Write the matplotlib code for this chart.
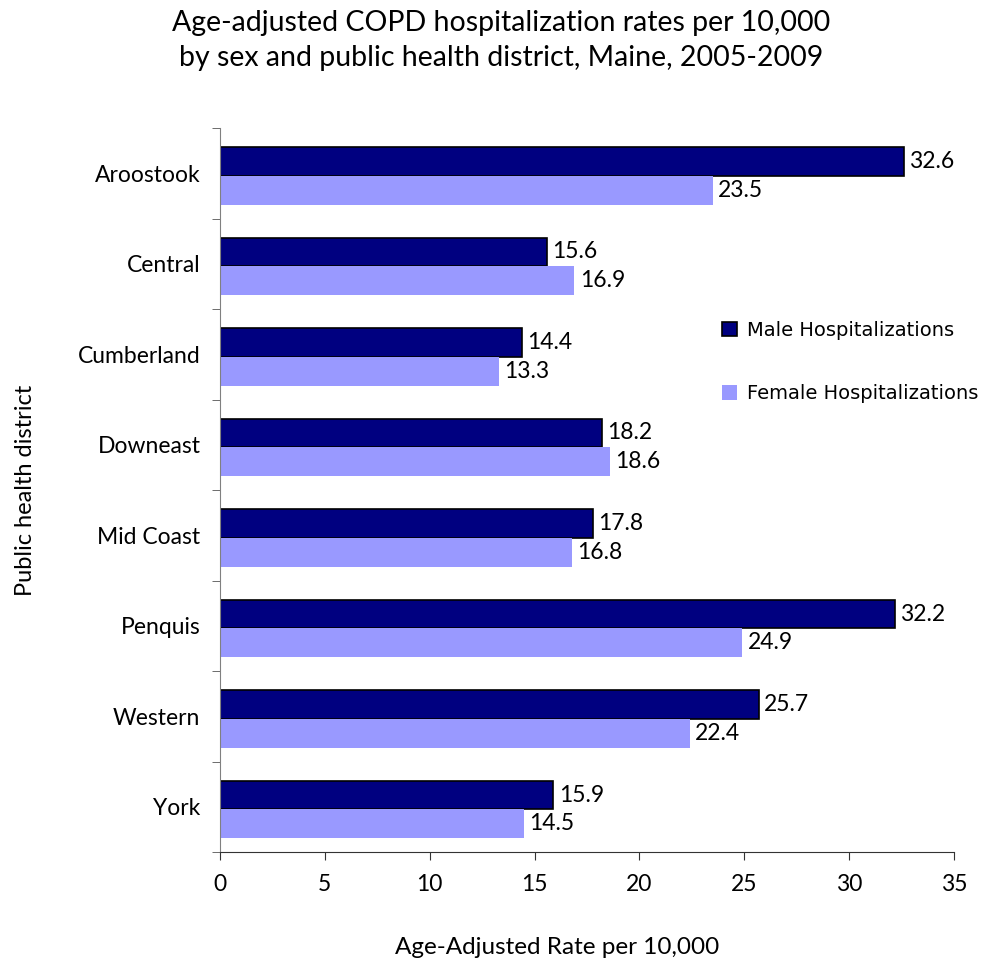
import numpy as np
import matplotlib.pyplot as plt

districts = ['Aroostook', 'Central', 'Cumberland', 'Downeast', 'Mid Coast',
             'Penquis', 'Western', 'York']
male = [32.6, 15.6, 14.4, 18.2, 17.8, 32.2, 25.7, 15.9]
female = [23.5, 16.9, 13.3, 18.6, 16.8, 24.9, 22.4, 14.5]

plt.rcParams['font.family'] = ['Lato', 'DejaVu Sans']

fig = plt.figure(figsize=(10.03, 9.61), dpi=100, facecolor='w')
ax = fig.add_axes([0.2193, 0.1134, 0.7318, 0.7534])

y = np.arange(len(districts))
h = 0.32
bm = ax.barh(y - h / 2 + 0.03, male, height=h, color='#000080', edgecolor='black',
             linewidth=1.2, label='Male Hospitalizations')
bf = ax.barh(y + h / 2 + 0.03, female, height=h, color='#9999FF', edgecolor='none',
             label='Female Hospitalizations')

for bars, vals in ((bm, male), (bf, female)):
    for b, v in zip(bars, vals):
        ax.text(v + 0.25, b.get_y() + b.get_height() / 2, f'{v:.1f}',
                va='center', ha='left', fontsize=16.5)

ax.set_ylim(len(districts) - 0.5, -0.5)
ax.set_xlim(0, 35)
ax.set_xticks(np.arange(0, 36, 5))
ax.set_yticks(y)
ax.set_yticklabels(districts, fontsize=16.5)
ax.set_yticks(np.arange(-0.5, len(districts), 1), minor=True)
ax.tick_params(axis='y', which='major', length=0, pad=14)
ax.tick_params(axis='y', which='minor', length=6, color='#555555')
ax.tick_params(axis='x', labelsize=16.5, length=6, color='#333333', pad=10)

for s in ('top', 'right'):
    ax.spines[s].set_visible(False)
ax.spines['left'].set_color('#808080')
ax.spines['bottom'].set_color('#333333')

ax.set_xlabel('Age-Adjusted Rate per 10,000', fontsize=17.5)
ax.xaxis.set_label_coords(0.46, -0.117)
ax.set_ylabel('Public health district', fontsize=17, labelpad=30)

fig.suptitle('Age-adjusted COPD hospitalization rates per 10,000\n'
             'by sex and public health district, Maine, 2005-2009',
             fontsize=20.5, y=0.99, linespacing=1.45)

ax.legend(loc='upper left', bbox_to_anchor=(0.66, 0.758), frameon=False,
          prop={'family': 'DejaVu Sans', 'size': 14}, labelspacing=2.3,
          handlelength=0.8, handleheight=0.8, handletextpad=0.5)

plt.savefig('out.png', dpi=100)
